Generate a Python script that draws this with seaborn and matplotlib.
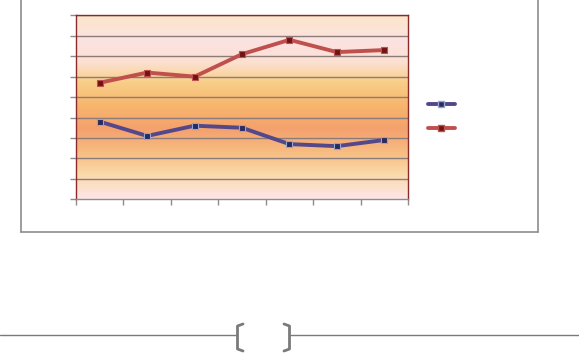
import numpy as np
import pandas as pd
import seaborn as sns
import matplotlib.pyplot as plt
from matplotlib.colors import LinearSegmentedColormap
from matplotlib.lines import Line2D

# data (no labels visible in the original)
categories = [1, 2, 3, 4, 5, 6, 7]
series_a = [38, 31, 36, 35, 27, 26, 29]   # blue line
series_b = [57, 62, 60, 71, 78, 72, 73]   # red line
y_ticks = list(range(0, 100, 10))

W, H = 579, 356
sns.set_theme(style="white")
fig = plt.figure(figsize=(W / 100, H / 100), dpi=100)

def px(x, y):  # pixel -> figure fraction
    return x / W, 1 - y / H

ax = fig.add_axes([76 / W, 1 - 199.3 / H, (408 - 76) / W, (199.3 - 15.3) / H])

# gradient plot background (top -> bottom)
grad = LinearSegmentedColormap.from_list("bg", [
    (0.00, "#fbe6c9"), (0.14, "#fce3e3"), (0.26, "#fbe0d0"),
    (0.36, "#f9cf8a"), (0.50, "#f7b46c"), (0.62, "#f4a16e"),
    (0.74, "#f7bb80"), (0.86, "#fad9a8"), (1.00, "#fde6e8")])
ax.imshow(np.linspace(0, 1, 256).reshape(-1, 1), cmap=grad, aspect="auto",
          extent=[0.5, 7.5, 0, 90], origin="upper", zorder=0)

df = pd.DataFrame({"x": categories * 2,
                   "y": series_a + series_b,
                   "s": ["a"] * 7 + ["b"] * 7})
sns.lineplot(data=df, x="x", y="y", hue="s", palette=["#54488a", "#c0504d"],
             lw=2.8, legend=False, ax=ax, zorder=3)
ax.plot(categories, series_a, ls="none", marker="s", ms=5, mfc="#2c2a5c",
        mec="#8fa6d6", mew=0.8, zorder=4)
ax.plot(categories, series_b, ls="none", marker="s", ms=5, mfc="#6e1414",
        mec="#c0504d", mew=0.8, zorder=4)

ax.set_xlim(0.5, 7.5)
ax.set_ylim(0, 90)
ax.set_yticks(y_ticks)
ax.set_xticks(np.arange(0.5, 8, 1))
ax.set_yticklabels([])
ax.set_xticklabels([])
ax.set_xlabel("")
ax.set_ylabel("")
ax.grid(False)
for y in y_ticks[1:]:
    ax.axhline(y, color="#8c7c78", lw=1, zorder=1)
ax.tick_params(axis="both", direction="out", length=4, width=1, color="#8c8c8c",
               left=True, bottom=True)
for side in ["left", "top", "right"]:
    ax.spines[side].set_color("#8a2a2a")
    ax.spines[side].set_linewidth(1)
ax.spines["bottom"].set_color("#8c8c8c")
ax.spines["bottom"].set_linewidth(1)

# legend without text
handles = [
    Line2D([], [], color="#54488a", lw=2.8, marker="s", ms=5, mfc="#2c2a5c", mec="#8fa6d6"),
    Line2D([], [], color="#c0504d", lw=2.8, marker="s", ms=5, mfc="#6e1414", mec="#c0504d"),
]
fig.legend(handles, ["", ""], loc="upper left", bbox_to_anchor=px(415, 85),
           frameon=False, handlelength=2.0, labelspacing=0.75, fontsize=10)

# chart border
g = "#8c8c8c"
for xs, ys in [((21, 21), (0, 232)), ((21, 538), (232, 232)), ((538, 538), (0, 232))]:
    fig.add_artist(Line2D([x / W for x in xs], [1 - y / H for y in ys], color=g, lw=1.2))

# bottom rule with bracket
for xs in [(0, 237), (290, 579)]:
    fig.add_artist(Line2D([x / W for x in xs], [1 - 335 / H] * 2, color="#7a7a7a", lw=1))
for xs in [(243, 237.5, 237.5, 243), (284, 289.5, 289.5, 284)]:
    fig.add_artist(Line2D([x / W for x in xs],
                          [1 - y / H for y in (324, 326, 349, 351)],
                          color="#7a7a7a", lw=2))

fig.savefig("out.png", dpi=100)
